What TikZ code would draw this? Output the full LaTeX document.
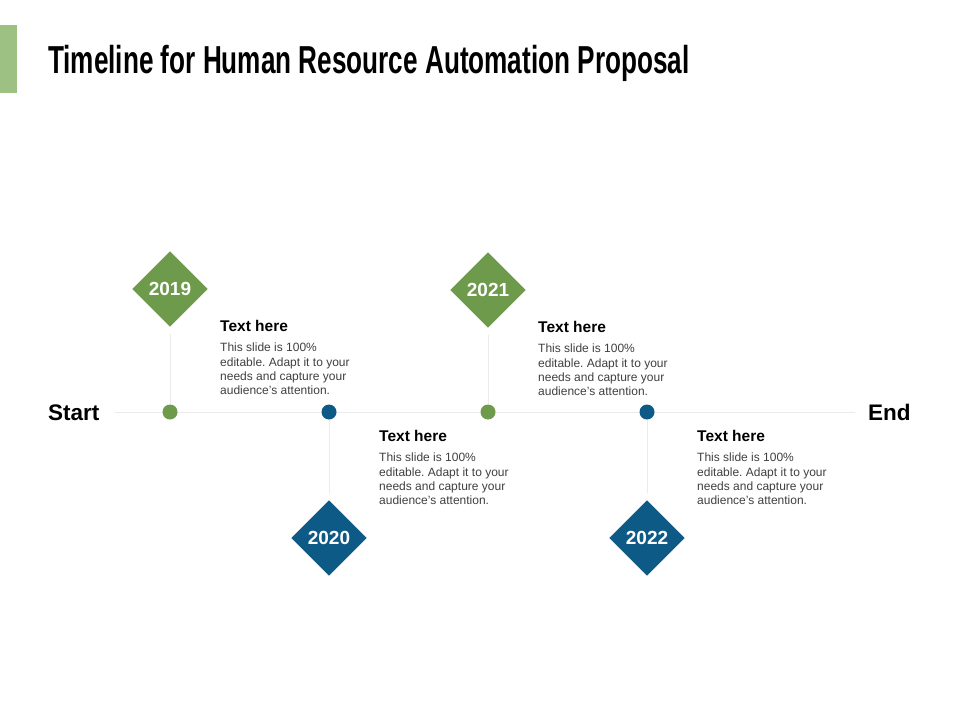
\documentclass[tikz,border=0pt]{standalone}
\usepackage{fontspec}
\setmainfont{Liberation Sans}
\newfontfamily\titlefont[FakeStretch=0.67]{Liberation Sans}
\usepackage{tikz}
\usetikzlibrary{shapes.geometric,positioning}
\frenchspacing

\definecolor{hrgreen}{HTML}{6E9A4C}
\definecolor{hrblue}{HTML}{0E5A86}
\definecolor{barGreen}{HTML}{9DC183}
\definecolor{lineGray}{HTML}{EBEBEB}
\definecolor{bodyGray}{HTML}{404040}

\tikzset{
 yearbox/.style={diamond, draw=white, line width=5pt, fill=#1, inner sep=0pt,
   minimum width=85pt, minimum height=85pt, text=white, font=\bfseries\fontsize{19}{19}\selectfont},
 dot/.style={circle, fill=#1, inner sep=0pt, minimum size=15pt},
 headtext/.style={inner sep=0pt, anchor=base west, font=\bfseries\fontsize{15.5}{16}\selectfont},
 bodytext/.style={inner sep=0pt, anchor=north west, align=left, text=bodyGray,
   font=\fontsize{12}{14.3}\selectfont},
 endtext/.style={inner sep=0pt, anchor=base west, font=\bfseries\fontsize{22.5}{23}\selectfont},
 link/.style={draw=lineGray, line width=1pt}
}

\begin{document}
\begin{tikzpicture}[x=1pt,y=-1pt]
 \useasboundingbox (0,0) rectangle (960,720);
 \fill [white] (0,0) rectangle (960,720); % 背景
 \fill [barGreen] (0,25) rectangle (17,93); % 左上の帯

 \node [inner sep=0pt, anchor=base west, font=\titlefont\bfseries\fontsize{39}{39}\selectfont] (title) at (48,73)
   {Timeline for Human Resource Automation Proposal};

 \coordinate (L) at (115,412); % 線の左端
 \coordinate (R) at (855,412); % 線の右端
 \draw [link] (L) -- (R);

 \node [endtext] (start) at (48,420) {Start};
 \node [endtext] (end) at (868,420) {End};

 \node [dot=hrgreen] (p2019) at (170,412) {};
 \node [dot=hrblue] (p2020) at (329,412) {};
 \node [dot=hrgreen] (p2021) at (488,412) {};
 \node [dot=hrblue] (p2022) at (647,412) {};

 \coordinate (c2019) at (170,289);
 \coordinate (c2020) at (329,538);
 \coordinate (c2021) at (488,290);
 \coordinate (c2022) at (647,538);
 \draw [link] (c2019) -- (p2019);
 \draw [link] (c2020) -- (p2020);
 \draw [link] (c2021) -- (p2021);
 \draw [link] (c2022) -- (p2022);

 \node [yearbox=hrgreen] (d2019) at (c2019) {2019};
 \node [yearbox=hrblue] (d2020) at (c2020) {2020};
 \node [yearbox=hrgreen] (d2021) at (c2021) {2021};
 \node [yearbox=hrblue] (d2022) at (c2022) {2022};

 \node [headtext] (h2019) at (220,331) {Text here};
 \node [bodytext] (b2019) at (220,343) {This slide is 100\%\\editable. Adapt it to your\\needs and capture your\\audience's attention.};

 \node [headtext] (h2020) at (379,441) {Text here};
 \node [bodytext] (b2020) at (379,453) {This slide is 100\%\\editable. Adapt it to your\\needs and capture your\\audience's attention.};

 \node [headtext] (h2021) at (538,332) {Text here};
 \node [bodytext] (b2021) at (538,344) {This slide is 100\%\\editable. Adapt it to your\\needs and capture your\\audience's attention.};

 \node [headtext] (h2022) at (697,441) {Text here};
 \node [bodytext] (b2022) at (697,453) {This slide is 100\%\\editable. Adapt it to your\\needs and capture your\\audience's attention.};
\end{tikzpicture}
\end{document}
